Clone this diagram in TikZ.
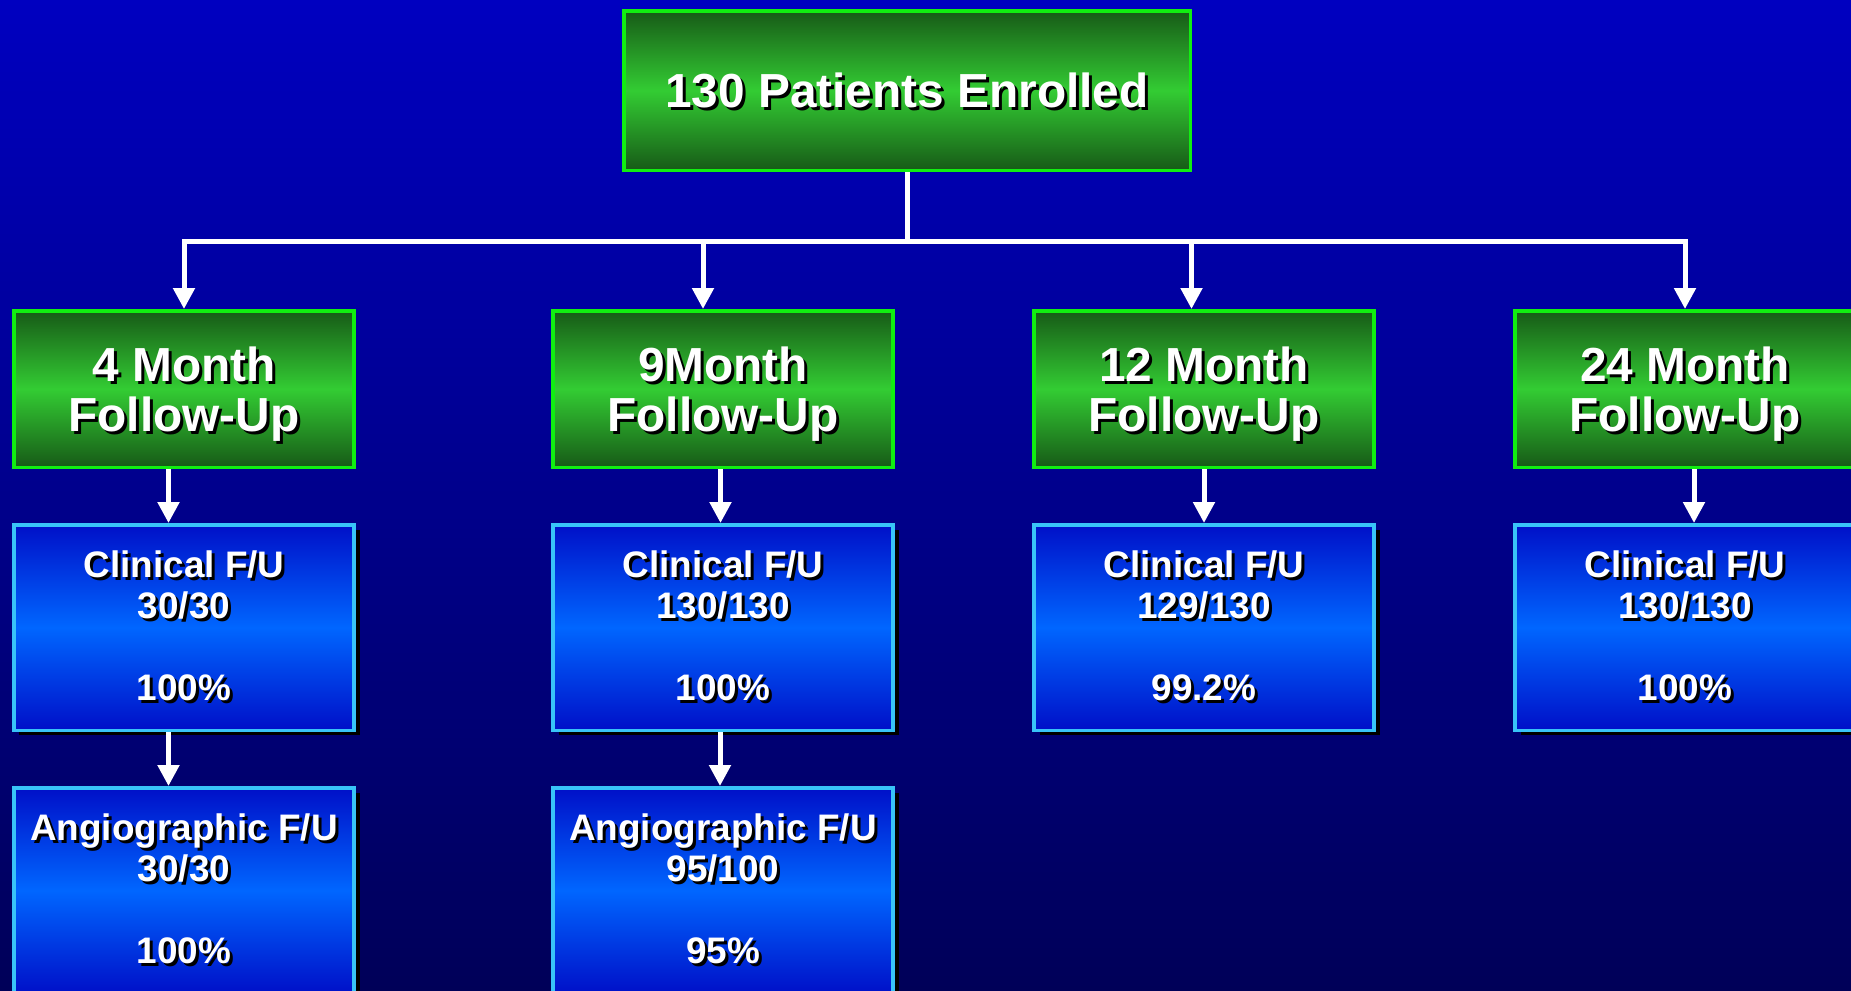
\documentclass[tikz,border=0pt]{standalone}
\usepackage{fontspec}
\setmainfont{Liberation Sans}
\usetikzlibrary{arrows.meta,positioning,shadows}
\definecolor{bgtop}{HTML}{0000C0}
\definecolor{bgbot}{HTML}{000058}
\definecolor{gdark}{HTML}{175A17}
\definecolor{glight}{HTML}{33CC33}
\definecolor{gedge}{HTML}{11EE11}
\definecolor{bdark}{HTML}{0010C8}
\definecolor{blight}{HTML}{0066FF}
\definecolor{bedge}{HTML}{38C4F8}
\newcommand{\sh}[1]{\makebox[0pt][l]{\hspace{0.3mm}\raisebox{-0.3mm}{\color{black}#1}}#1}

\begin{document}
\begin{tikzpicture}[
  x=1mm,y=1mm,
  >={Triangle[width=2.1mm,length=2.1mm]},
  greenbox/.style={draw=gedge,line width=0.35mm,top color=gdark,bottom color=gdark,
                   middle color=glight,minimum width=34mm,minimum height=15.65mm,
                   inner sep=0pt,align=center,text=white,text depth=0pt,
                   font=\bfseries\fontsize{13.6}{14.4}\selectfont},
  bluebox/.style={draw=bedge,line width=0.35mm,top color=bdark,bottom color=bdark,
                  middle color=blight,minimum width=34mm,minimum height=20.55mm,
                  inner sep=0pt,align=center,text=white,
                  font=\bfseries\fontsize{10.5}{11.7}\selectfont,
                  drop shadow={shadow xshift=0.55mm,shadow yshift=-0.5mm,fill=black,opacity=1}},
  wire/.style={white,line width=0.5mm},
  flow/.style={->,white,line width=0.5mm}
]
\useasboundingbox (0,0) rectangle (185.1,-99);
\shade[top color=bgtop,bottom color=bgbot] (0,0) rectangle (185.1,-99);

\node[greenbox,minimum width=56.65mm,minimum height=15.95mm] (enrol) at (90.7,-9.05) {\sh{130 Patients Enrolled}};

\node[greenbox] (m4) at (18.4,-38.9) {\sh{4 Month}\\\sh{Follow-Up}};
\node[greenbox] (m9) at (72.3,-38.9) {\sh{9Month}\\\sh{Follow-Up}};
\node[greenbox] (m12) at (120.4,-38.9) {\sh{12 Month}\\\sh{Follow-Up}};
\node[greenbox] (m24) at (168.5,-38.9) {\sh{24 Month}\\\sh{Follow-Up}};

\node[bluebox,below=5.4mm of m4] (c4) {\sh{Clinical F/U}\\\sh{30/30}\\[11.7pt]\sh{100\%}};
\node[bluebox,below=5.4mm of m9] (c9) {\sh{Clinical F/U}\\\sh{130/130}\\[11.7pt]\sh{100\%}};
\node[bluebox,below=5.4mm of m12] (c12) {\sh{Clinical F/U}\\\sh{129/130}\\[11.7pt]\sh{99.2\%}};
\node[bluebox,below=5.4mm of m24] (c24) {\sh{Clinical F/U}\\\sh{130/130}\\[11.7pt]\sh{100\%}};

\node[bluebox,below=5.4mm of c4] (a4) {\sh{Angiographic F/U}\\\sh{30/30}\\[11.7pt]\sh{100\%}};
\node[bluebox,below=5.4mm of c9] (a9) {\sh{Angiographic F/U}\\\sh{95/100}\\[11.7pt]\sh{95\%}};

% split line from the enrolment box
\coordinate (bus) at (90.7,-24.1);
\draw[wire] (enrol) -- (enrol |- bus);
\draw[flow] (enrol |- bus) -| (m4.north);
\draw[flow] (enrol |- bus) -| (m24.north);
\draw[flow] ([xshift=-2mm]m9.north |- bus) -- ([xshift=-2mm]m9.north);
\draw[flow] ([xshift=-1.25mm]m12.north |- bus) -- ([xshift=-1.25mm]m12.north);

% follow-up chains
\draw[flow] ([xshift=-1.55mm]m4.south) -- ([xshift=-1.55mm]c4.north);
\draw[flow] ([xshift=-0.25mm]m9.south) -- ([xshift=-0.25mm]c9.north);
\draw[flow] (m12) -- (c12);
\draw[flow] ([xshift=0.9mm]m24.south) -- ([xshift=0.9mm]c24.north);
\draw[flow] ([xshift=-1.55mm]c4.south) -- ([xshift=-1.55mm]a4.north);
\draw[flow] ([xshift=-0.3mm]c9.south) -- ([xshift=-0.3mm]a9.north);
\end{tikzpicture}
\end{document}
